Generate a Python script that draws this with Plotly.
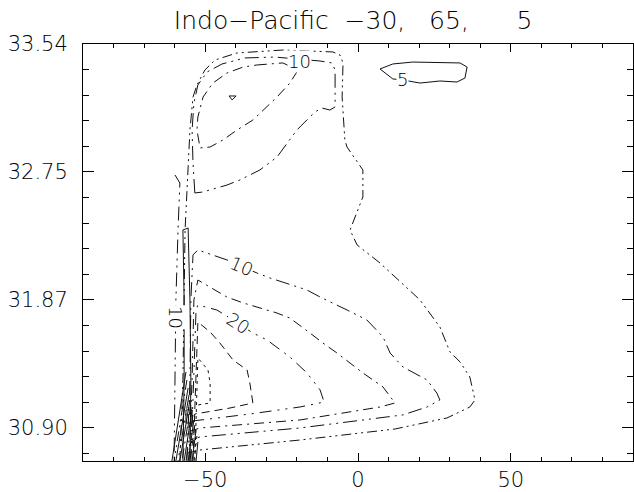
import plotly.graph_objects as go

# ---- axis labels ----
NB = "\u00a0"
title_text = "Indo\u2212Pacific" + NB + NB + "\u221230," + NB + NB + NB + "65," + NB + NB + NB + NB + NB + NB + "5"
x_tickvals = [-50, 0, 50]
x_ticktext = ["\u221250", "0", "50"]
y_tickvals = [0, 1, 2, 3]
y_ticktext = ["30.90", "31.87", "32.75", "33.54"]

# ---- contour paths (latitude, stretched density index) ----
c5_loop_lat = [7.2, 11.4, 17.9, 27.8, 33.4, 35.7, 35.0, 32.4, 26.8, 20.3, 14.7, 11.4, 7.2]
c5_loop_u = [2.805, 2.844, 2.859, 2.852, 2.852, 2.820, 2.734, 2.703, 2.711, 2.695, 2.719, 2.727, 2.805]

c5_outer_lat = [-58.3, -57.3, -56.6, -56.0, -55.6, -55.0, -54.0, -52.7, -50.1, -46.8, -39.6, -24.6, -8.2, -5.9,
                -4.9, -5.2, -4.3, -3.6, 1.6, 1.6, -2.6, -0.3, 7.2, 20.3, 26.8, 30.1, 33.4, 36.6, 38.3, 36.6,
                29.1, 12.1, -19.0, -51.7, -55.6]
c5_outer_u = [-0.258, 0.375, 1.547, 1.805, 2.070, 2.328, 2.586, 2.680, 2.797, 2.875, 2.930, 2.953, 2.938, 2.914,
              2.852, 2.586, 2.25, 2.195, 2.016, 1.805, 1.547, 1.430, 1.289, 1.0, 0.789, 0.594, 0.516, 0.398, 0.219,
              0.164, 0.078, -0.008, -0.094, -0.172, -0.195]

c10_top_lat = [-53.4, -54.0, -54.3, -53.7, -52.4, -49.4, -44.5, -37.0, -27.2, -19.0, -12.4, -8.5, -7.5, -7.5,
               -9.2, -11.8, -14.1, -20.0, -26.5, -32.1, -38.6, -42.9, -50.7, -53.4]
c10_top_u = [1.836, 2.070, 2.328, 2.539, 2.680, 2.781, 2.844, 2.891, 2.898, 2.883, 2.867, 2.852, 2.797, 2.508,
             2.484, 2.5, 2.469, 2.328, 2.117, 2.016, 1.938, 1.898, 1.844, 1.836]

c15_top_lat = [-33.1, -24.6, -19.6, -22.3, -26.5, -31.1, -34.4, -39.6, -44.2, -48.4, -51.7, -52.7, -52.4, -50.7,
               -47.5, -42.9, -37.6, -33.1]
c15_top_u = [2.836, 2.852, 2.797, 2.695, 2.586, 2.484, 2.406, 2.328, 2.25, 2.195, 2.188, 2.328, 2.430, 2.586,
             2.695, 2.773, 2.820, 2.836]

spot_lat = [-42.2, -39.9, -41.2, -42.2]
spot_u = [2.594, 2.594, 2.563, 2.594]

c10_low_lat = [-56.0, -55.0, -54.7, -54.0, -52.4, -42.9, -33.1, -28.8, -16.7, -12.4, -3.6, 2.9, 8.2, 10.5, 14.7,
               22.6, 25.8, 26.8, 22.6, 14.7, -19.0, -51.7, -55.0]
c10_low_u = [-0.258, 0.375, 1.0, 1.352, 1.391, 1.313, 1.211, 1.172, 1.078, 1.023, 0.922, 0.844, 0.711, 0.586,
             0.477, 0.375, 0.273, 0.219, 0.164, 0.102, 0.0, -0.070, -0.094]

c15_low_lat = [-55.3, -54.3, -53.7, -52.4, -42.9, -37.6, -26.5, -22.3, -15.7, -11.5, -6.9, 1.6, 8.2, 11.4, 12.1,
               7.2, -19.0, -51.7, -54.7]
c15_low_u = [-0.258, 0.375, 1.0, 1.156, 1.023, 0.977, 0.898, 0.859, 0.742, 0.664, 0.586, 0.430, 0.320, 0.219,
             0.195, 0.164, 0.0625, 0.0, -0.023]

c20_lat = [-54.7, -53.7, -53.0, -52.4, -46.2, -39.3, -34.4, -29.8, -22.3, -16.7, -12.4, -11.1, -19.0, -35.4,
           -51.7, -54.0]
c20_u = [-0.258, 0.375, 0.922, 0.961, 0.922, 0.820, 0.742, 0.688, 0.555, 0.430, 0.297, 0.203, 0.164, 0.109,
         0.0625, 0.055]

c25_lat = [-54.0, -53.0, -52.4, -48.4, -45.2, -40.9, -36.3, -35.4, -34.4, -41.9, -51.7, -53.4]
c25_u = [-0.258, 0.375, 0.828, 0.75, 0.664, 0.531, 0.453, 0.352, 0.195, 0.156, 0.117, 0.109]

c30_lat = [-53.4, -52.7, -52.4, -49.1, -48.4, -48.4, -52.4]
c30_u = [-0.258, 0.219, 0.547, 0.453, 0.352, 0.195, 0.180]

c10_west_lat = [-59.9, -58.3, -58.9, -59.6, -59.9, -60.2]
c10_west_u = [1.977, 1.914, 1.547, 1.0, 0.375, -0.258]

narrow_lat = [-57.3, -56.9, -56.9, -57.3, -55.6, -55.0, -54.7, -55.0]
narrow_u = [-0.258, 0.375, 1.0, 1.547, 1.5625, 1.0, 0.375, -0.258]

fan_lat_top = [-56.3, -56.0, -55.6, -55.3, -55.0, -54.7, -54.3, -54.0, -53.7, -53.4, -53.0, -52.7, -52.4]
fan_u_top = [0.438, 0.375, 0.313, 0.258, 0.219, 0.180, 0.141, 0.102, 0.0625, 0.023, -0.016, -0.063, -0.109]
fan_lat_bot = [-60.9, -60.2, -59.6, -58.9, -58.3, -57.6, -56.9, -56.3, -55.6, -55.0, -54.3, -53.7, -53.0]
fan_u_bot = -0.258

box_lat = [-56.3, -54.3, -54.3, -56.3, -56.3]
box_u = [0.141, 0.141, 0.039, 0.039, 0.141]

# contour labels: (text, lat, u, angle)
label_text = ["5", "10", "10", "20", "10"]
label_lat = [14.4, -19.0, -38.0, -39.0, -59.9]
label_u = [2.72, 2.86, 1.258, 0.82, 0.86]
label_angle = [0, 0, 23, 33, 90]

# ---- styles ----
S_SOLID = "solid"
S5 = "10px,4px,2px,4px,2px,4px"
S10 = "14px,5px,2px,5px,2px,5px"
S15 = "10px,5px,2px,5px"
S20 = "12px,6px,2px,6px,2px,6px"
S25 = "8px,5px"
S30 = "3px,4px"
LINE_COLOR = "#111111"

fig = go.Figure()

def add(lat, u, dash, width=1):
    fig.add_trace(go.Scatter(x=lat, y=u, mode="lines", line=dict(color=LINE_COLOR, width=width, dash=dash),
                             showlegend=False, hoverinfo="skip"))

add(c5_loop_lat, c5_loop_u, S_SOLID)
add(c5_outer_lat, c5_outer_u, S5)
add(c10_top_lat, c10_top_u, S10)
add(c15_top_lat, c15_top_u, S15)
add(spot_lat, spot_u, S_SOLID)
add(c10_low_lat, c10_low_u, S10)
add(c15_low_lat, c15_low_u, S15)
add(c20_lat, c20_u, S20)
add(c25_lat, c25_u, S25)
add(c30_lat, c30_u, S30)
add(c10_west_lat, c10_west_u, S10)
add(narrow_lat, narrow_u, S_SOLID)
fan_styles = [S_SOLID, S5, S_SOLID, S10, S_SOLID, S15, S_SOLID, S20, S_SOLID, S25, S_SOLID, S30, S_SOLID]
for i in range(len(fan_lat_top)):
    add([fan_lat_top[i], fan_lat_bot[i]], [fan_u_top[i], fan_u_bot], fan_styles[i])
add(box_lat, box_u, S_SOLID)

FONT = "DejaVu Sans"
for t, la, uu, ang in zip(label_text, label_lat, label_u, label_angle):
    fig.add_annotation(x=la, y=uu, text=t, showarrow=False, textangle=ang, bgcolor="white", borderpad=0,
                       font=dict(family=FONT, size=18, color="black", weight=200))

fig.update_layout(
    width=634, height=492,
    margin=dict(l=83, r=1, t=44, b=31, autoexpand=False),
    paper_bgcolor="white", plot_bgcolor="white",
    title=dict(text=title_text, x=0.557, xanchor="center", y=0.958, yanchor="middle",
               font=dict(family=FONT, size=25, color="black", weight=200)),
    font=dict(family=FONT, size=21, color="black", weight=200),
)
fig.update_xaxes(range=[-90, 90], tickvals=x_tickvals, ticktext=x_ticktext, ticks="inside", ticklen=8,
                 tickcolor="black", showline=True, linecolor="black", linewidth=1, mirror="ticks",
                 showgrid=False, zeroline=False, automargin=False,
                 minor=dict(dtick=10, tick0=0, ticks="inside", ticklen=4, tickcolor="black", showgrid=False),
                 tickfont=dict(family=FONT, size=21, color="black", weight=200), ticklabelstandoff=0)
fig.update_yaxes(range=[-0.258, 3.0], tickvals=y_tickvals, ticktext=y_ticktext, ticks="inside", ticklen=11,
                 tickcolor="black", showline=True, linecolor="black", linewidth=1, mirror="ticks",
                 showgrid=False, zeroline=False, automargin=False,
                 minor=dict(dtick=0.2, tick0=0, ticks="inside", ticklen=6, tickcolor="black", showgrid=False),
                 tickfont=dict(family=FONT, size=21, color="black", weight=200), ticklabelstandoff=10)

fig.write_html("out.html")
